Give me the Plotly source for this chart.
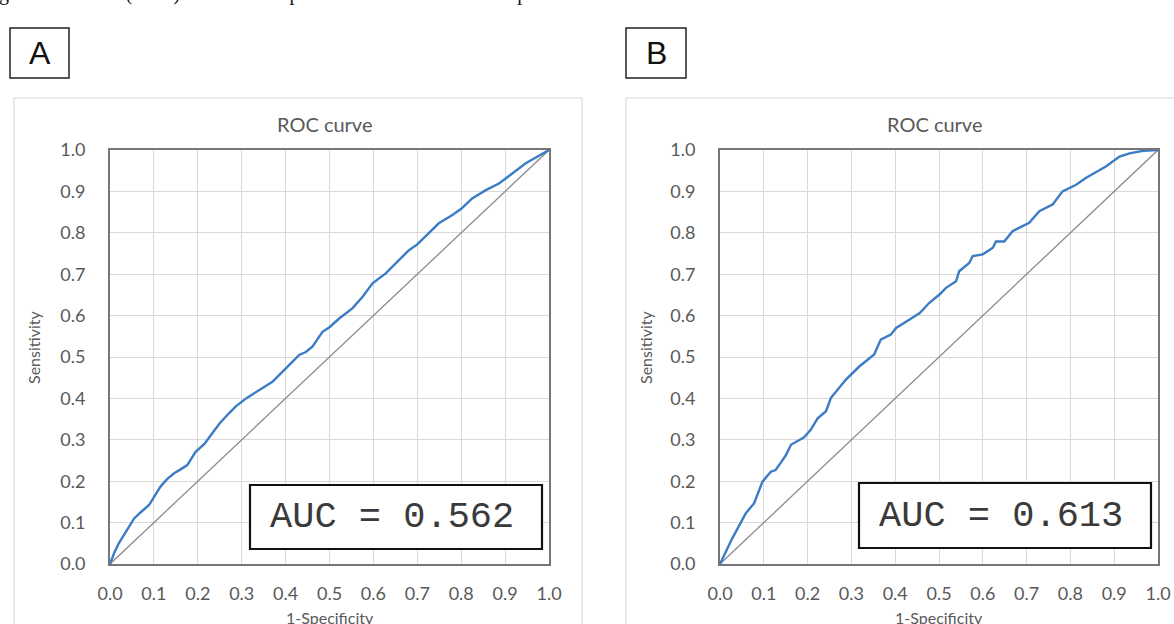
import plotly.graph_objects as go

# ---- data ----
fpr_a = [0.0, 0.010, 0.020, 0.035, 0.055, 0.070, 0.089, 0.105, 0.115, 0.130, 0.146, 0.160, 0.176, 0.195,
         0.215, 0.233, 0.250, 0.271, 0.286, 0.310, 0.339, 0.355, 0.370, 0.400, 0.431, 0.446, 0.461,
         0.484, 0.500, 0.522, 0.552, 0.575, 0.598, 0.628, 0.651, 0.681, 0.700, 0.719, 0.749, 0.780,
         0.800, 0.825, 0.856, 0.886, 0.916, 0.947, 0.975, 1.0]
tpr_a = [0.0, 0.028, 0.050, 0.075, 0.110, 0.125, 0.1425, 0.170, 0.187, 0.205, 0.219, 0.228, 0.239, 0.271,
         0.290, 0.316, 0.340, 0.364, 0.380, 0.400, 0.420, 0.430, 0.440, 0.472, 0.505, 0.512, 0.525,
         0.561, 0.572, 0.593, 0.6175, 0.645, 0.678, 0.702, 0.726, 0.758, 0.772, 0.791, 0.823, 0.843,
         0.858, 0.883, 0.903, 0.919, 0.944, 0.968, 0.985, 1.0]

fpr_b = [0.0, 0.015, 0.028, 0.045, 0.059, 0.078, 0.089, 0.097, 0.116, 0.127, 0.139, 0.150, 0.162, 0.192,
         0.207, 0.223, 0.242, 0.253, 0.287, 0.318, 0.352, 0.367, 0.390, 0.402, 0.432, 0.456, 0.478,
         0.501, 0.516, 0.539, 0.546, 0.569, 0.577, 0.600, 0.623, 0.630, 0.649, 0.668, 0.706, 0.729,
         0.760, 0.782, 0.813, 0.836, 0.881, 0.912, 0.935, 0.966, 1.0]
tpr_b = [0.0, 0.035, 0.062, 0.095, 0.1226, 0.147, 0.175, 0.199, 0.223, 0.227, 0.245, 0.262, 0.288, 0.306,
         0.324, 0.352, 0.369, 0.401, 0.445, 0.477, 0.506, 0.542, 0.554, 0.570, 0.590, 0.606, 0.631,
         0.651, 0.667, 0.683, 0.707, 0.727, 0.744, 0.748, 0.764, 0.779, 0.779, 0.804, 0.824, 0.852,
         0.869, 0.900, 0.916, 0.933, 0.960, 0.984, 0.992, 0.998, 1.0]

diag = [0.0, 1.0]
auc_labels = ["AUC = 0.562", "AUC = 0.613"]
panel_labels = ["A", "B"]
tick_vals = [i / 10 for i in range(11)]
tick_text = [f"{v:.1f}" for v in tick_vals]

W, H = 1174, 624
BLUE = "#3b7cc4"
GRID = "#d9d9d9"
TXT = "#595959"

def px(x):
    return x / W

def py(y):
    return 1 - y / H

fig = go.Figure()

# plot-area pixel geometry
panels = [
    dict(x0=110, x1=549, fpr=fpr_a, tpr=tpr_a, frame=(14, 582), box=(10, 69), auc=(250, 542, 485, 549)),
    dict(x0=720, x1=1158, fpr=fpr_b, tpr=tpr_b, frame=(626, 1190), box=(626, 686), auc=(859, 1151, 483, 548)),
]
y_top, y_bot = 150, 564

shapes = []
annotations = []
for i, p in enumerate(panels):
    ax = "" if i == 0 else str(i + 1)
    fig.add_trace(go.Scatter(x=diag, y=diag, mode="lines", line=dict(color="#8a8a8a", width=1.3),
                             xaxis="x" + ax, yaxis="y" + ax, showlegend=False, hoverinfo="skip"))
    fig.add_trace(go.Scatter(x=p["fpr"], y=p["tpr"], mode="lines", line=dict(color=BLUE, width=2.4),
                             xaxis="x" + ax, yaxis="y" + ax, showlegend=False))
    axis_common = dict(range=[0, 1], tickvals=tick_vals, ticktext=tick_text, showgrid=True,
                       gridcolor=GRID, gridwidth=1, zeroline=False, showline=True, mirror=True,
                       linecolor="#767676", linewidth=2, ticks="outside", ticklen=0,
                       automargin=False,
                       tickfont=dict(family="Lato", size=18, color=TXT), fixedrange=True)
    fig.update_layout(**{
        "xaxis" + ax: dict(domain=[px(p["x0"]), px(p["x1"])], anchor="y" + ax,
                           ticklabelstandoff=12, **axis_common),
        "yaxis" + ax: dict(domain=[py(y_bot), py(y_top)], anchor="x" + ax,
                           ticklabelstandoff=19, **axis_common),
    })
    # outer chart frame
    shapes.append(dict(type="rect", xref="paper", yref="paper", x0=px(p["frame"][0]), x1=px(p["frame"][1]),
                       y0=py(640), y1=py(98), line=dict(color=GRID, width=1.2), layer="below"))
    # panel label box
    shapes.append(dict(type="rect", xref="paper", yref="paper", x0=px(p["box"][0]), x1=px(p["box"][1]),
                       y0=py(78), y1=py(28), line=dict(color="#222222", width=1.5)))
    annotations.append(dict(text=panel_labels[i], xref="paper", yref="paper",
                            x=px((p["box"][0] + p["box"][1]) / 2), y=py(53), showarrow=False,
                            xanchor="center", yanchor="middle",
                            font=dict(family="Liberation Sans", size=32, color="#111111")))
    # AUC box
    a = p["auc"]
    shapes.append(dict(type="rect", xref="paper", yref="paper", x0=px(a[0]), x1=px(a[1]),
                       y0=py(a[3]), y1=py(a[2]), line=dict(color="#111111", width=2.2),
                       fillcolor="white", layer="above"))
    annotations.append(dict(text=auc_labels[i], xref="paper", yref="paper",
                            x=px((a[0] + a[1]) / 2 - 4), y=py((a[2] + a[3]) / 2), showarrow=False,
                            xanchor="center", yanchor="middle",
                            font=dict(family="Liberation Mono", size=37, color="#3a3a3a")))
    # title
    annotations.append(dict(text="ROC curve", xref="paper", yref="paper",
                            x=px((p["x0"] + p["x1"]) / 2 - 5), y=py(124), showarrow=False,
                            xanchor="center", yanchor="middle",
                            font=dict(family="Lato", size=20, color=TXT)))
    # axis titles
    annotations.append(dict(text="1-Specificity", xref="paper", yref="paper",
                            x=px((p["x0"] + p["x1"]) / 2), y=py(617), showarrow=False,
                            xanchor="center", yanchor="middle",
                            font=dict(family="Lato", size=16, color=TXT)))
    annotations.append(dict(text="Sensitivity", xref="paper", yref="paper",
                            x=px(p["frame"][0] + 19), y=py(348), showarrow=False, textangle=-90,
                            xanchor="center", yanchor="middle",
                            font=dict(family="Lato", size=16, color=TXT)))

# clipped caption at the top
annotations.append(dict(text="g characteristic (ROC) curves for experiment 1 out of the five experiments are shown. AUC: area under the curve.",
                        xref="paper", yref="paper", x=px(-3), y=py(7), showarrow=False,
                        xanchor="left", yanchor="bottom",
                        font=dict(family="Liberation Serif", size=20, color="#111111")))

fig.update_layout(width=W, height=H, margin=dict(l=0, r=0, t=0, b=0),
                  paper_bgcolor="white", plot_bgcolor="white",
                  shapes=shapes, annotations=annotations, showlegend=False)

fig.write_html("out.html", config={"displayModeBar": False})
